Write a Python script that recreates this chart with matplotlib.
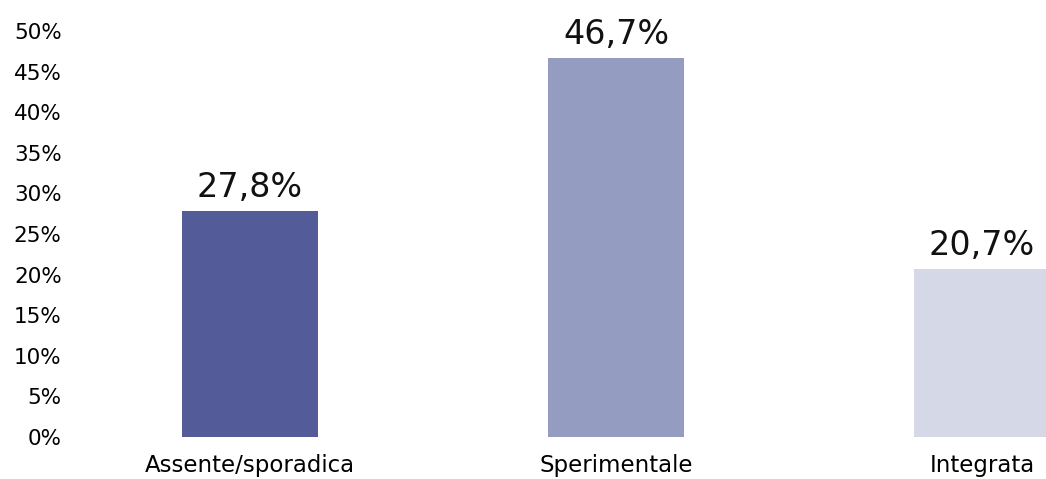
import matplotlib
matplotlib.use("Agg")
import matplotlib.pyplot as plt

categories = ["Assente/sporadica", "Sperimentale", "Integrata"]
values = [27.8, 46.7, 20.7]
value_labels = ["27,8%", "46,7%", "20,7%"]
colors = ["#535c99", "#949cc1", "#d5d8e7"]
yticks = [0, 5, 10, 15, 20, 25, 30, 35, 40, 45, 50]

plt.rcParams['font.family'] = ['DejaVu Sans']

fig = plt.figure(figsize=(10.46, 4.79), dpi=100)
ax = fig.add_axes([70 / 1046, 42 / 479, 976 / 1046, 437 / 479])

x = list(range(len(categories)))
bars = ax.bar(x, values, width=0.369, color=colors, clip_on=False)

for xi, v, lab in zip(x, values, value_labels):
    ax.annotate(lab, (xi, v), xytext=(0, 10), textcoords="offset points",
                ha="center", va="baseline", fontsize=24, color="#111111")

ax.set_xlim((70 - 250) / 366, (1046 - 250) / 366)
ax.set_ylim(0, 437 / 8.12)
ax.set_yticks(yticks)
ax.set_yticklabels([f"{t}%" for t in yticks], fontsize=15.5)
ax.set_xticks(x)
ax.set_xticklabels(categories, fontsize=16.5)
ax.tick_params(length=0)
ax.tick_params(axis="y", pad=6)
ax.tick_params(axis="x", pad=12)
for s in ax.spines.values():
    s.set_visible(False)

fig.savefig("out.png", dpi=100)
